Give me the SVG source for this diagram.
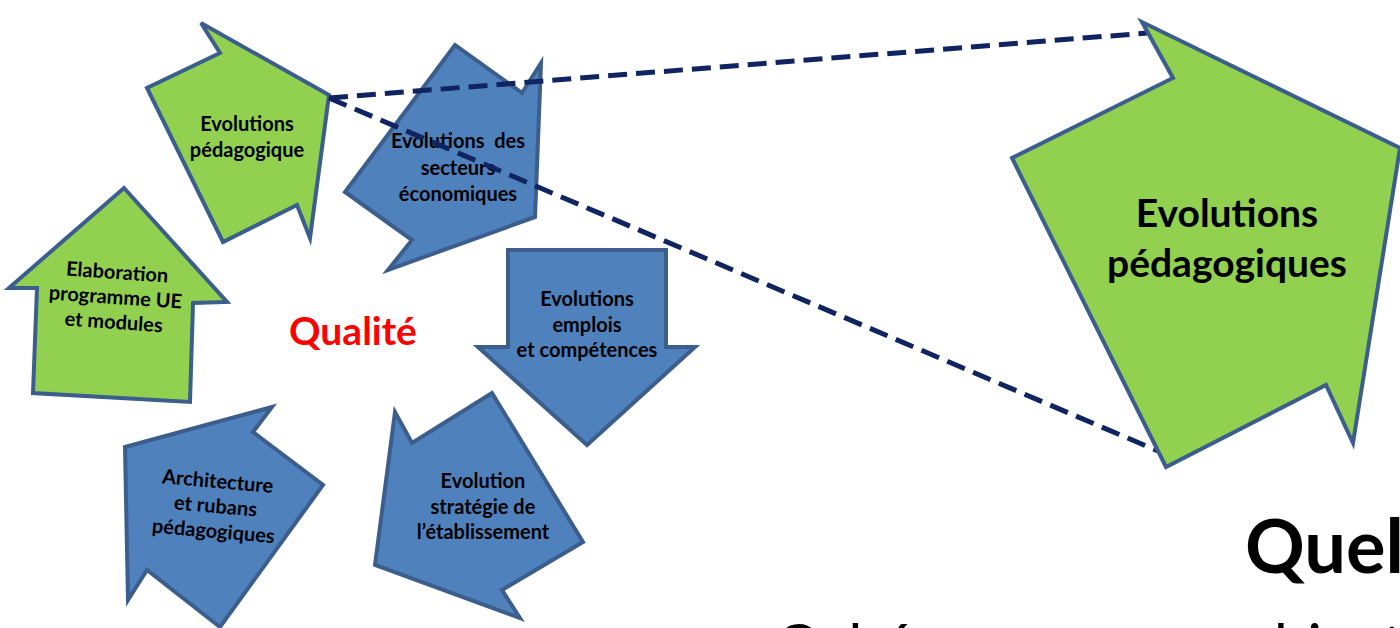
<svg xmlns="http://www.w3.org/2000/svg" width="1400" height="628" viewBox="0 0 1400 628">
<style>
.g{fill:#92D050;stroke:#3B5E8C;stroke-width:4;stroke-linejoin:miter}
.b{fill:#4F81BD;stroke:#3B5E8C;stroke-width:4;stroke-linejoin:miter}
.t{font-family:Lato,"Liberation Sans",sans-serif;font-weight:700;font-size:20px;fill:#000;text-anchor:middle}
.big{font-family:Lato,"Liberation Sans",sans-serif;font-weight:700;font-size:39px;fill:#000;text-anchor:middle}
.dash{fill:none;stroke:#0F2461;stroke-width:5;stroke-dasharray:19 9}
</style>
<rect width="1400" height="628" fill="#fff"/>
<g id="n-evol-pedago">
<polygon class="g" points="329,95 201,23 220,53 147,88 223,242 297,205 310,238"/>
<text class="t" x="247" y="131">Evolutions</text>
<text class="t" x="247" y="157">pédagogique</text>
</g>
<g id="n-secteurs">
<polygon class="b" points="535,217 388,270 412,240 345,192 455,45 522,93 541,63"/>
<text class="t" x="458" y="148" xml:space="preserve">Evolutions  des</text>
<text class="t" x="458" y="175">secteurs</text>
<text class="t" x="458" y="201">économiques</text>
</g>
<g id="n-emplois">
<polygon class="b" points="587,445 478,347 508,347 508,250 666,250 666,347 695,347"/>
<text class="t" x="587" y="306">Evolutions</text>
<text class="t" x="587" y="332">emplois</text>
<text class="t" x="587" y="357">et compétences</text>
</g>
<g id="n-strategie">
<polygon class="b" points="375,565 395,412 412,443 492,393 583,542 502,590 520,618"/>
<text class="t" x="483" y="488">Evolution</text>
<text class="t" x="483" y="514">stratégie de</text>
<text class="t" x="483" y="539">l’établissement</text>
</g>
<g id="n-architecture">
<polygon class="b" points="125,447 272,407 253,432 323,485 220,627 147,570 128,600"/>
<g transform="rotate(5 215 513)">
<text class="t" x="215" y="488">Architecture</text>
<text class="t" x="215" y="513">et rubans</text>
<text class="t" x="215" y="538">pédagogiques</text>
</g>
</g>
<g id="n-elaboration">
<polygon class="g" points="124,188 227,302 193,303 190,402 33,393 37,288 9,288"/>
<g transform="rotate(4 115 304)">
<text class="t" x="115" y="279">Elaboration</text>
<text class="t" x="115" y="304">programme UE</text>
<text class="t" x="115" y="329">et modules</text>
</g>
</g>
<g id="n-qualite">
<text x="353" y="345" font-family="Lato,'Liberation Sans',sans-serif" font-weight="700" font-size="39" fill="#FF0000" text-anchor="middle">Qualité</text>
</g>
<g id="connectors">
<line class="dash" x1="329" y1="98" x2="1147" y2="33"/>
<line class="dash" x1="329" y1="98" x2="1158" y2="451"/>
</g>
<g id="n-evol-pedago-big">
<polygon class="g" points="1400,148 1142,22 1173,78 1012,158 1166,467 1326,385 1353,443"/>
<text class="big" x="1227" y="227">Evolutions</text>
<text class="big" x="1227" y="277">pédagogiques</text>
</g>
<g id="title">
<text x="1245" y="573" font-family="Lato,'Liberation Sans',sans-serif" font-weight="700" font-size="74" fill="#000">Quel</text>
<text y="667" font-family="Lato,'Liberation Sans',sans-serif" font-size="60" fill="#000"><tspan x="775">Cohérence avec </tspan><tspan x="1240">objectifs</tspan></text>
</g>
</svg>
